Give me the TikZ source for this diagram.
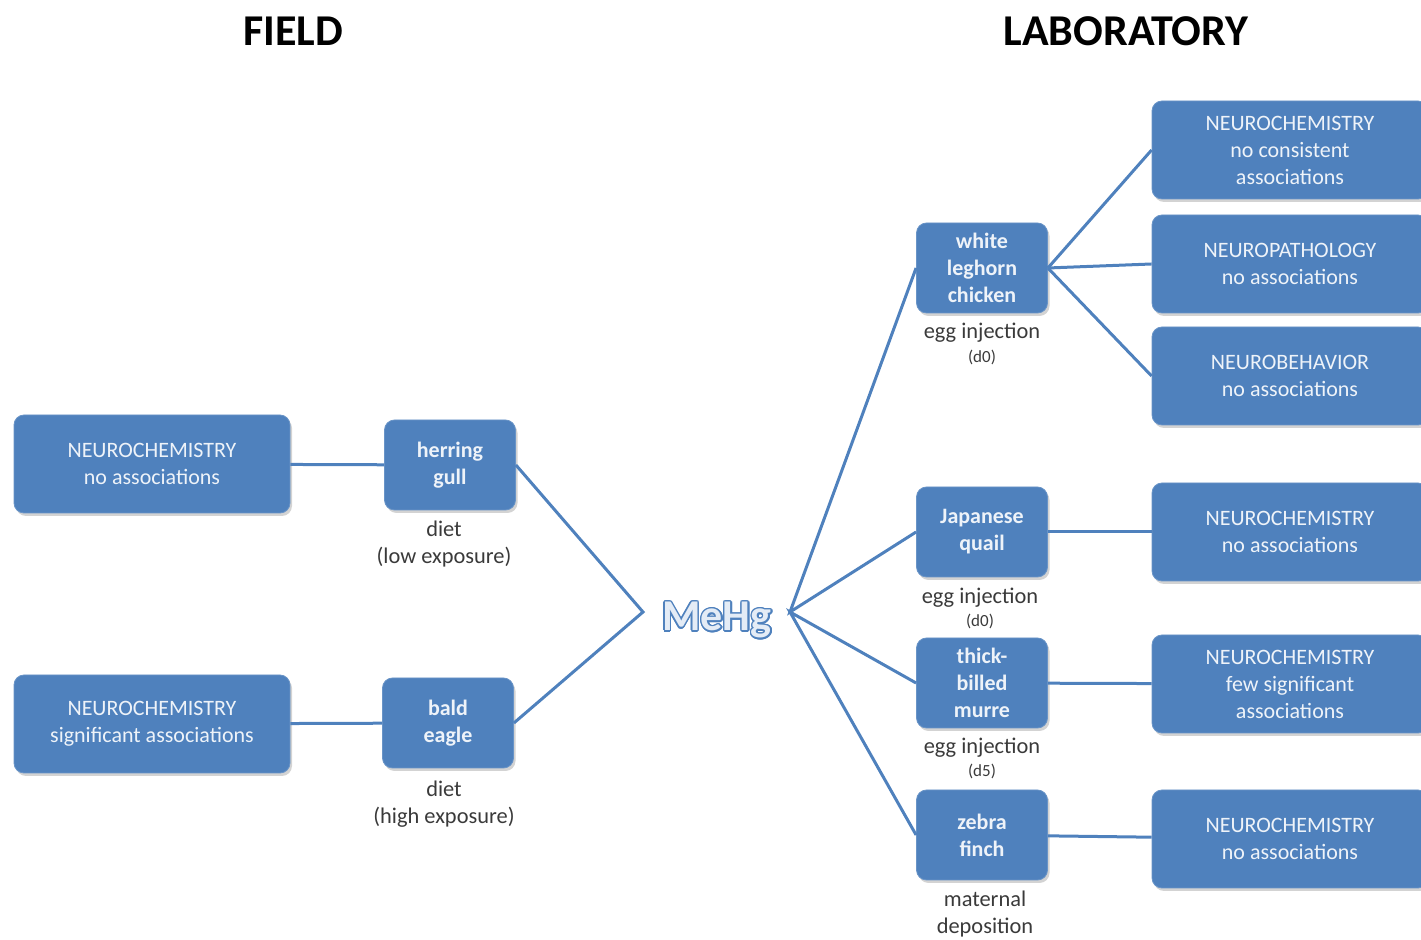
\documentclass[tikz,border=0pt]{standalone}
\usepackage{fontspec}
\setmainfont{Carlito}
\usepackage{contour}
\usetikzlibrary{shadows}
\definecolor{boxblue}{HTML}{4F81BD}
\definecolor{textwhite}{HTML}{EEF3F9}
\definecolor{labelgray}{HTML}{3A3A3A}
\definecolor{paleblue}{HTML}{E4ECF6}
\contourlength{0.7pt}
\begin{document}
\begin{tikzpicture}[x=0.5pt, y=-0.5pt,
					outcome/.style={draw=boxblue!85!white, fill=boxblue, rounded corners=5pt, minimum width=138pt, minimum height=49pt, align=center, text=textwhite, font=\fontsize{11}{13.5}\selectfont, drop shadow={shadow xshift=1pt, shadow yshift=-1.5pt, opacity=0.35}},
					bird/.style={outcome, minimum width=65.5pt, minimum height=45pt, font=\fontsize{11}{13.5}\selectfont\bfseries},
					route/.style={align=center, text=labelgray, font=\fontsize{11.2}{13.5}\selectfont},
					day/.style={text=labelgray, font=\fontsize{8.5}{9}\selectfont, inner sep=0pt},
					link/.style={draw=boxblue, line width=1.5pt}
					]
					\useasboundingbox (0,0) rectangle (1421,940);
					\node[font=\fontsize{22}{26}\selectfont\bfseries] (field) at (293,31) {FIELD};
					\node[font=\fontsize{22}{26}\selectfont\bfseries] (lab) at (1126,31) {LABORATORY};
					\node[font=\fontsize{22}{26}\selectfont\bfseries] (MeHg) at (717,621) {\contour{boxblue}{\textcolor{paleblue}{MeHg}}};
					\coordinate (MeHgW) at (643,612);
					\coordinate (MeHgE) at (790,612);
					\node[outcome] (NCgull) at (152,464) {NEUROCHEMISTRY\\no associations};
					\node[outcome] (NCeagle) at (152,724) {NEUROCHEMISTRY\\significant associations};
					\node[bird] (gull) at (450,465) {herring\\gull};
					\node[bird] (eagle) at (448,723) {bald\\eagle};
					\node[route] (gullDiet) at (444,544) {diet\\(low exposure)};
					\node[route] (eagleDiet) at (444,804) {diet\\(high exposure)};
					\node[bird] (chicken) at (982,268) {white\\leghorn\\chicken};
					\node[bird] (quail) at (982,532) {Japanese\\quail};
					\node[bird] (murre) at (982,683) {thick-\\billed\\murre};
					\node[bird] (finch) at (982,835) {zebra\\finch};
					\node[route] (chickenInj) at (982,333) {egg injection};
					\node[day] (chickenDay) at (982,357) {(d0)};
					\node[route] (quailInj) at (980,598) {egg injection};
					\node[day] (quailDay) at (980,621) {(d0)};
					\node[route] (murreInj) at (982,748) {egg injection};
					\node[day] (murreDay) at (982,771) {(d5)};
					\node[route] (finchDep) at (985,914) {maternal\\deposition};
					\node[outcome] (NCchicken) at (1290,150) {NEUROCHEMISTRY\\no consistent\\associations};
					\node[outcome] (NPchicken) at (1290,264) {NEUROPATHOLOGY\\no associations};
					\node[outcome] (NBchicken) at (1290,376) {NEUROBEHAVIOR\\no associations};
					\node[outcome] (NCquail) at (1290,532) {NEUROCHEMISTRY\\no associations};
					\node[outcome] (NCmurre) at (1290,684) {NEUROCHEMISTRY\\few significant\\associations};
					\node[outcome] (NCfinch) at (1290,839) {NEUROCHEMISTRY\\no associations};
					\draw[link] (NCgull) -- (gull);
					\draw[link] (NCeagle) -- (eagle);
					\draw[link] (gull.east) -- (MeHgW) -- (eagle.east);
					\draw[link] (chicken.west) -- (MeHgE) -- (quail.west);
					\draw[link] (murre.west) -- (MeHgE) -- (finch.west);
					\draw[link] (chicken.east) -- (NCchicken.west);
					\draw[link] (chicken.east) -- (NPchicken.west);
					\draw[link] (chicken.east) -- (NBchicken.west);
					\draw[link] (quail) -- (NCquail);
					\draw[link] (murre) -- (NCmurre);
					\draw[link] (finch) -- (NCfinch);
				\end{tikzpicture}
\end{document}
